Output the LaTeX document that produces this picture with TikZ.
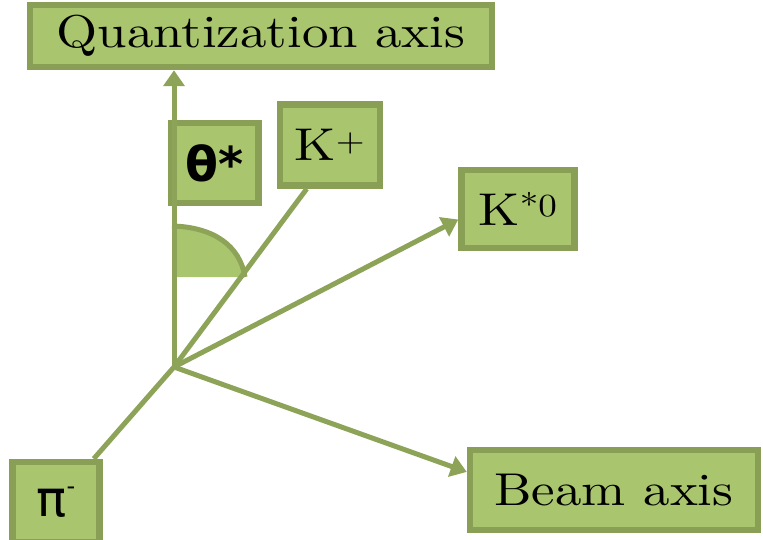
\documentclass[tikz,border=0pt]{standalone}
\usepackage{fontspec}
\usetikzlibrary{arrows.meta}
\newfontfamily\greekfont{DejaVu Sans}
\newfontfamily\labelfont{lmroman10-regular}[Extension=.otf, FakeStretch=1.15]
\definecolor{boxfill}{RGB}{169,197,110}
\definecolor{boxedge}{RGB}{137,159,86}
\definecolor{axisgreen}{RGB}{140,163,88}
\tikzset{
	label box/.style={draw=boxedge, fill=boxfill, line width=6.5pt, inner sep=0pt,
		font=\fontsize{46}{50}\labelfont},
	axis line/.style={draw=axisgreen, line width=5pt},
	axis arrow/.style={axis line, -{Triangle[width=21pt,length=16pt]}}
}

\begin{document}
\begin{tikzpicture}[x=1pt, y=-1pt]
		%%%%% START %%%%%
		\useasboundingbox (0, 0) rectangle (763, 540);
		
		\coordinate (o) at (174, 367);
		
		\node[label box, minimum width=462, minimum height=62] (qaxis) at (261, 36) {Quantization axis};
		\node[label box, minimum width=288, minimum height=80] (beam) at (614, 490) {Beam axis};
		\node[label box, minimum width=113, minimum height=78] (kstar) at (518, 209) {K\textsuperscript{*0}};
		\node[label box, minimum width=100, minimum height=81] (kplus) at (330, 145) {K\textsuperscript{+}};
		\node[label box, minimum width=87, minimum height=80, font=\fontsize{48}{50}\greekfont\bfseries] (theta) at (215, 163) {θ*};
		\node[label box, minimum width=87, minimum height=80, font=\fontsize{50}{52}\greekfont] (pim) at (56, 502) {π\raisebox{0.45em}{\fontsize{24}{24}\selectfont -}};
		
		% angle between the quantization axis and the K+
		\fill[boxfill] (172, 277) -- (172, 226) .. controls (214, 227) and (240, 246) .. (245, 277) -- cycle;
		\draw[axis line] (172, 226) .. controls (214, 227) and (240, 246) .. (245, 277);
		
		\draw[axis arrow] (o) -- (o |- qaxis.south);
		\draw[axis line] (o) -- (kplus.242);
		\draw[axis arrow] (o) -- (kstar.190);
		\draw[axis arrow] (o) -- (beam.173);
		\draw[axis line] (o) -- (pim);
		
		%%%%% END %%%%%
	\end{tikzpicture}
\end{document}
